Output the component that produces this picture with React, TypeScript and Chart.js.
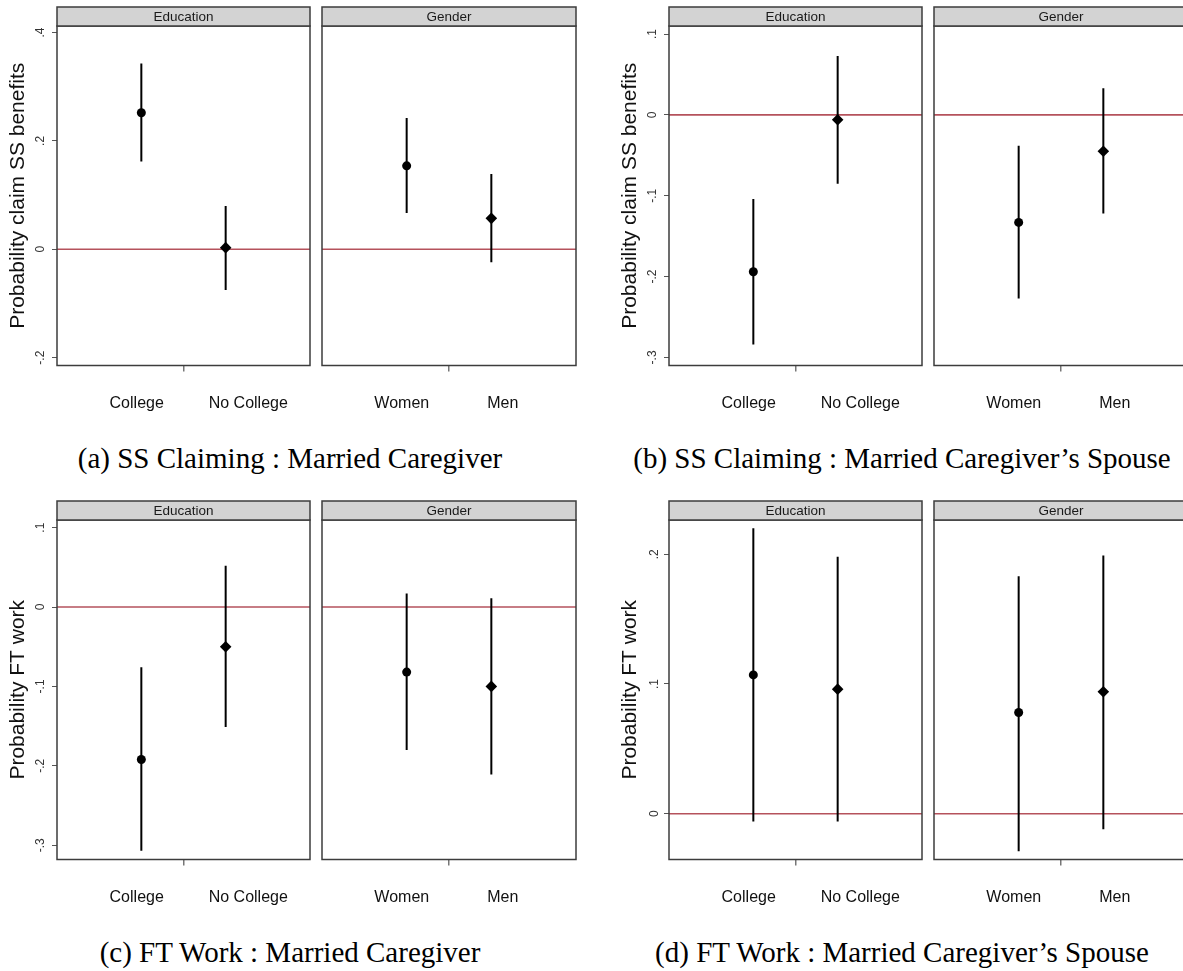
import React, { useEffect, useRef } from 'react';
import { Chart, registerables } from 'chart.js';

Chart.register(...registerables);
Chart.defaults.font.family = '"Liberation Sans", Arial, sans-serif';

// Categories
const EDUCATION = ['College', 'No College'];
const GENDER = ['Women', 'Men'];
const CATEGORY_X = [1, 2];

// (a) SS Claiming : Married Caregiver
const A_EDU_EST = [0.252, 0.003];
const A_EDU_LO = [0.162, -0.075];
const A_EDU_HI = [0.343, 0.08];
const A_GEN_EST = [0.154, 0.057];
const A_GEN_LO = [0.067, -0.024];
const A_GEN_HI = [0.242, 0.139];

// (b) SS Claiming : Married Caregiver's Spouse
const B_EDU_EST = [-0.194, -0.006];
const B_EDU_LO = [-0.284, -0.085];
const B_EDU_HI = [-0.104, 0.073];
const B_GEN_EST = [-0.133, -0.045];
const B_GEN_LO = [-0.227, -0.122];
const B_GEN_HI = [-0.038, 0.033];

// (c) FT Work : Married Caregiver
const C_EDU_EST = [-0.192, -0.05];
const C_EDU_LO = [-0.307, -0.151];
const C_EDU_HI = [-0.076, 0.052];
const C_GEN_EST = [-0.082, -0.1];
const C_GEN_LO = [-0.18, -0.211];
const C_GEN_HI = [0.017, 0.011];

// (d) FT Work : Married Caregiver's Spouse
const D_EDU_EST = [0.107, 0.096];
const D_EDU_LO = [-0.006, -0.006];
const D_EDU_HI = [0.22, 0.198];
const D_GEN_EST = [0.078, 0.094];
const D_GEN_LO = [-0.029, -0.012];
const D_GEN_HI = [0.183, 0.199];

// Y-axis tick values
const A_TICKS = [-0.2, 0, 0.2, 0.4];
const B_TICKS = [-0.3, -0.2, -0.1, 0, 0.1];
const C_TICKS = [-0.3, -0.2, -0.1, 0, 0.1];
const D_TICKS = [0, 0.1, 0.2];

// Layout
const CANVAS_H = 420;
const PLOT_TOP = 26;
const PLOT_BOTTOM = 365.5;
const HEADER_TOP = 7;
const LABEL_Y = 404;
const Y_AXIS_W = 57;
const REF_RED = '#b5525c';

const fmtTick = (v: number) => {
  if (Math.abs(v) < 1e-9) return '0';
  return v.toFixed(1).replace('0.', '.');
};

const facetPlugin = {
  id: 'facet',
  afterDatasetsDraw(chart: any) {
    const { ctx, chartArea: a } = chart;
    ctx.save();
    ctx.strokeStyle = '#3c3c3c';
    ctx.lineWidth = 1.5;
    ctx.strokeRect(a.left, a.top, a.right - a.left, a.bottom - a.top);
    ctx.restore();
  },
  afterDraw(chart: any, _args: any, opts: any) {
    const { ctx, chartArea: a } = chart;
    const w = a.right - a.left;
    ctx.save();
    // facet header strip
    ctx.fillStyle = '#d3d3d3';
    ctx.fillRect(a.left, HEADER_TOP, w, a.top - HEADER_TOP);
    ctx.strokeStyle = '#3c3c3c';
    ctx.lineWidth = 1.5;
    ctx.strokeRect(a.left, HEADER_TOP, w, a.top - HEADER_TOP);
    ctx.fillStyle = '#1a1a1a';
    ctx.font = '13.5px "Liberation Sans", Arial, sans-serif';
    ctx.textAlign = 'center';
    ctx.textBaseline = 'middle';
    ctx.fillText(opts.title, a.left + w / 2, (HEADER_TOP + a.top) / 2 + 0.5);
    // category labels under the panel
    ctx.font = '16px "Liberation Sans", Arial, sans-serif';
    ctx.fillStyle = '#111';
    (opts.labels as string[]).forEach((lab, i) => {
      ctx.fillText(lab, a.left + w * opts.labelPos[i], LABEL_Y);
    });
    ctx.restore();
  },
};

type PanelProps = {
  facet: string;
  categories: string[];
  est: number[];
  lo: number[];
  hi: number[];
  yMin: number;
  yMax: number;
  yTicks: number[];
  yTitle?: string;
  left: number;
  width: number;
  padLeft: number;
  padRight: number;
  labelPos: number[];
};

function Panel(p: PanelProps) {
  const ref = useRef<HTMLCanvasElement>(null);
  useEffect(() => {
    const showY = !!p.yTitle;
    const chart = new Chart(ref.current as HTMLCanvasElement, {
      type: 'line',
      data: {
        datasets: [
          {
            label: 'estimate',
            data: p.est.map((v, i) => ({ x: CATEGORY_X[i], y: v })),
            showLine: false,
            pointStyle: ['circle', 'rectRot'],
            pointRadius: [4.5, 5.8],
            pointBackgroundColor: '#000',
            pointBorderColor: '#000',
            pointBorderWidth: 0,
          },
          ...p.est.map((_, i) => ({
            label: 'ci',
            data: [
              { x: CATEGORY_X[i], y: p.lo[i] },
              { x: CATEGORY_X[i], y: p.hi[i] },
            ],
            borderColor: '#000',
            borderWidth: 2,
            pointRadius: 0,
          })),
          {
            label: 'zero',
            data: [
              { x: 0, y: 0 },
              { x: 3, y: 0 },
            ],
            borderColor: REF_RED,
            borderWidth: 1.6,
            pointRadius: 0,
          },
        ] as any,
      },
      options: {
        animation: false,
        responsive: false,
        devicePixelRatio: 1,
        events: [],
        layout: { padding: { top: PLOT_TOP, left: p.padLeft, right: p.padRight, bottom: 0 } },
        plugins: {
          legend: { display: false },
          tooltip: { enabled: false },
          facet: { title: p.facet, labels: p.categories, labelPos: p.labelPos },
        } as any,
        scales: {
          x: {
            type: 'linear',
            min: 0,
            max: 3,
            afterBuildTicks: (s: any) => {
              s.ticks = [{ value: 1.5 }];
            },
            afterFit: (s: any) => {
              s.height = CANVAS_H - PLOT_BOTTOM;
            },
            ticks: { callback: () => '' },
            grid: { drawOnChartArea: false, drawTicks: true, tickLength: 6, color: '#777', lineWidth: 1.5 },
            border: { display: false },
          },
          y: {
            type: 'linear',
            display: showY,
            min: p.yMin,
            max: p.yMax,
            afterBuildTicks: (s: any) => {
              s.ticks = p.yTicks.map((v) => ({ value: v }));
            },
            afterFit: (s: any) => {
              s.width = showY ? Y_AXIS_W : 0;
            },
            ticks: {
              minRotation: 90,
              maxRotation: 90,
              crossAlign: 'center',
              padding: 4,
              color: '#333',
              font: { size: 12 },
              callback: (v: any) => fmtTick(Number(v)),
            },
            grid: { drawOnChartArea: false, drawTicks: true, tickLength: 5, color: '#555', lineWidth: 1 },
            border: { display: false },
            title: {
              display: showY,
              text: p.yTitle || '',
              color: '#111',
              font: { size: 21 },
              padding: { top: 6, bottom: 0 },
            },
          },
        },
      } as any,
      plugins: [facetPlugin as any],
    });
    return () => chart.destroy();
  }, []);
  return (
    <canvas
      ref={ref}
      width={p.width}
      height={CANVAS_H}
      style={{ position: 'absolute', left: p.left, top: 0, width: p.width, height: CANVAS_H, display: 'block' }}
    />
  );
}

type Figure = {
  x: number;
  y: number;
  caption: string;
  yTitle: string;
  yMin: number;
  yMax: number;
  yTicks: number[];
  edu: [number[], number[], number[]];
  gen: [number[], number[], number[]];
};

const FIGURES: Figure[] = [
  {
    x: 0, y: 0,
    caption: '(a) SS Claiming : Married Caregiver',
    yTitle: 'Probability claim SS benefits',
    yMin: -0.2145, yMax: 0.412, yTicks: A_TICKS,
    edu: [A_EDU_EST, A_EDU_LO, A_EDU_HI],
    gen: [A_GEN_EST, A_GEN_LO, A_GEN_HI],
  },
  {
    x: 612, y: 0,
    caption: '(b) SS Claiming : Married Caregiver\u2019s Spouse',
    yTitle: 'Probability claim SS benefits',
    yMin: -0.31, yMax: 0.11, yTicks: B_TICKS,
    edu: [B_EDU_EST, B_EDU_LO, B_EDU_HI],
    gen: [B_GEN_EST, B_GEN_LO, B_GEN_HI],
  },
  {
    x: 0, y: 494,
    caption: '(c) FT Work : Married Caregiver',
    yTitle: 'Probability FT work',
    yMin: -0.318, yMax: 0.1096, yTicks: C_TICKS,
    edu: [C_EDU_EST, C_EDU_LO, C_EDU_HI],
    gen: [C_GEN_EST, C_GEN_LO, C_GEN_HI],
  },
  {
    x: 612, y: 494,
    caption: '(d) FT Work : Married Caregiver\u2019s Spouse',
    yTitle: 'Probability FT work',
    yMin: -0.0353, yMax: 0.2264, yTicks: D_TICKS,
    edu: [D_EDU_EST, D_EDU_LO, D_EDU_HI],
    gen: [D_GEN_EST, D_GEN_LO, D_GEN_HI],
  },
];

export default function App() {
  return (
    <div
      style={{
        position: 'absolute', left: 0, top: 0, width: 1183, height: 971,
        overflow: 'hidden', background: '#fff',
      }}
    >
      {FIGURES.map((f, k) => (
        <div key={k} style={{ position: 'absolute', left: f.x, top: f.y, width: 600, height: 490 }}>
          <Panel
            facet="Education"
            categories={EDUCATION}
            est={f.edu[0]} lo={f.edu[1]} hi={f.edu[2]}
            yMin={f.yMin} yMax={f.yMax} yTicks={f.yTicks}
            yTitle={f.yTitle}
            left={0} width={316} padLeft={0} padRight={6}
            labelPos={[0.315, 0.756]}
          />
          <Panel
            facet="Gender"
            categories={GENDER}
            est={f.gen[0]} lo={f.gen[1]} hi={f.gen[2]}
            yMin={f.yMin} yMax={f.yMax} yTicks={f.yTicks}
            left={312} width={276} padLeft={10} padRight={12}
            labelPos={[0.314, 0.712]}
          />
          <div
            style={{
              position: 'absolute', left: 0, top: 440, width: 580, textAlign: 'center',
              fontFamily: '"Liberation Serif", "Times New Roman", serif', fontSize: 29,
              lineHeight: '36px', color: '#000', whiteSpace: 'nowrap',
            }}
          >
            {f.caption}
          </div>
        </div>
      ))}
    </div>
  );
}
